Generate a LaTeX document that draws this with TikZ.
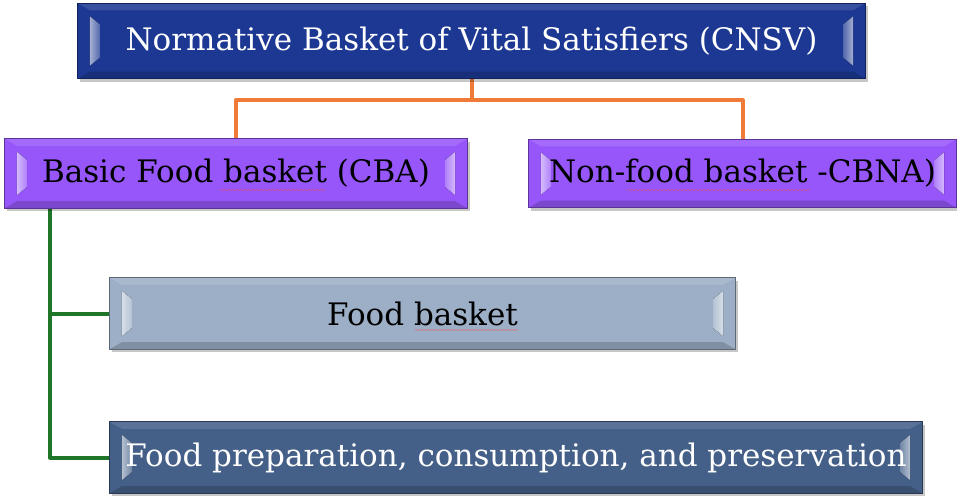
\documentclass[tikz,border=0pt]{standalone}
\usepackage{fontspec}
\setmainfont{DejaVu Serif}
\usetikzlibrary{backgrounds,decorations.pathmorphing}
\definecolor{topblue}{RGB}{28,56,146}
\definecolor{purp}{RGB}{150,86,250}
\definecolor{greyblue}{RGB}{156,175,198}
\definecolor{slate}{RGB}{68,96,136}
\definecolor{orng}{RGB}{240,122,56}
\definecolor{grn}{RGB}{32,118,40}
\pgfdeclarelayer{lines}
\pgfdeclarelayer{boxes}
\pgfsetlayers{lines,boxes,main}
\newcommand\boxdeco[2]{%
  \fill[black,opacity=0.22] ([xshift=2pt,yshift=-3pt]#1.south west) rectangle ([xshift=3pt,yshift=-3pt]#1.north east);
  \fill[#2] (#1.south west) rectangle (#1.north east);
  \fill[#2!88!white] (#1.north west) -- ([xshift=12pt,yshift=-7pt]#1.north west) -- ([xshift=-12pt,yshift=-7pt]#1.north east) -- (#1.north east) -- cycle;
  \fill[#2!82!black] (#1.south west) -- ([xshift=12pt,yshift=7pt]#1.south west) -- ([xshift=-12pt,yshift=7pt]#1.south east) -- (#1.south east) -- cycle;
  \fill[left color=#2!40!white, right color=#2!75!white] ([xshift=12pt,yshift=-13pt]#1.north west) -- ([xshift=22pt,yshift=-21pt]#1.north west) -- ([xshift=22pt,yshift=21pt]#1.south west) -- ([xshift=12pt,yshift=13pt]#1.south west) -- cycle;
  \fill[right color=#2!40!white, left color=#2!75!white] ([xshift=-12pt,yshift=-13pt]#1.north east) -- ([xshift=-22pt,yshift=-21pt]#1.north east) -- ([xshift=-22pt,yshift=21pt]#1.south east) -- ([xshift=-12pt,yshift=13pt]#1.south east) -- cycle;
  \draw[#2!60!black, line width=0.8pt] (#1.south west) rectangle (#1.north east);
}
\tikzset{
  bbox/.style={rectangle, inner sep=0pt, font=\fontsize{31}{36}\selectfont, text=black},
  oline/.style={draw=orng, line width=4pt, line join=round},
  gline/.style={draw=grn, line width=4pt, line join=round},
  spell/.style={draw=red!70, line width=0.6pt, opacity=0.6, decorate, decoration={snake, amplitude=0.6pt, segment length=4pt}}
}
\begin{document}
\begin{tikzpicture}[x=1pt,y=-1pt]
\useasboundingbox (0,0) rectangle (957,495);
\node[bbox, text=white, minimum width=787pt, minimum height=75pt] (cnsv) at (471.5,41) {Normative Basket of Vital Satisfiers (CNSV)};
\node[bbox, minimum width=462pt, minimum height=69pt] (cba) at (236,173.5) {Basic Food basket (CBA)};
\node[bbox, minimum width=427pt, minimum height=68pt] (cbna) at (742.5,173.5) {Non-food basket -CBNA)};
\node[bbox, minimum width=625pt, minimum height=71pt] (fb) at (422.5,313.5) {Food basket};
\node[bbox, text=white, minimum width=812pt, minimum height=71pt] (fp) at (516,457.5) {Food preparation, consumption, and preservation};
\begin{pgfonlayer}{boxes}
  \boxdeco{cnsv}{topblue}
  \boxdeco{cba}{purp}
  \boxdeco{cbna}{purp}
  \boxdeco{fb}{greyblue}
  \boxdeco{fp}{slate}
\end{pgfonlayer}
\begin{pgfonlayer}{lines}
  \coordinate (oj) at (471.5,100);
  \coordinate (gx) at (50,0);
  \draw[oline] (cnsv.south) -- (oj);
  \draw[oline] (cba.north) |- (oj) -| (cbna.north);
  \draw[gline] (cba.south -| gx) |- (fp.west);
  \draw[gline] (gx |- fb.west) -- (fb.west);
\end{pgfonlayer}
\draw[spell] (220,190) -- (325,190);
\draw[spell] (627,190) -- (810,190);
\draw[spell] (415,330) -- (518,330);
\end{tikzpicture}
\end{document}
